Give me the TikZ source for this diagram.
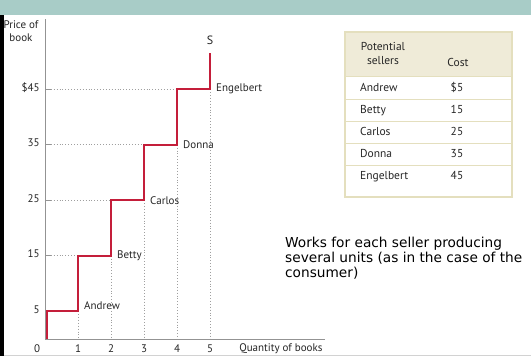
\documentclass[tikz,border=0pt]{standalone}
\usepackage{fontspec}
\usepackage{tikz}
\usetikzlibrary{positioning}

\newfontfamily\chartfont{PT Sans}
\newfontfamily\notefont{DejaVu Sans}

\definecolor{bandteal}{HTML}{A8CCC7}
\definecolor{supplyred}{HTML}{C41E3A}
\definecolor{tablebeige}{HTML}{EFEBD8}
\definecolor{tableline}{HTML}{E4DFBE}
\definecolor{inkgray}{HTML}{262626}

\tikzset{
    lbl/.style={font=\chartfont\fontsize{11}{12}\selectfont, text=inkgray, inner sep=1pt},
    cell/.style={font=\chartfont\fontsize{11.5}{12.5}\selectfont, text=inkgray, inner sep=1pt},
    guide/.style={gray!75, dotted, line width=0.9pt},
    axisline/.style={gray!85, line width=0.8pt},
}

\begin{document}
\begin{tikzpicture}[x=1pt, y=1pt]
    \useasboundingbox (0,0) rectangle (531,356);
    \fill[white] (0,0) rectangle (531,356);
    \fill[bandteal] (0,341) rectangle (531,356);
    \draw[gray!35, line width=1.2pt] (0,0.6) -- (531,0.6);

    % supply curve: 33pt per book, 5.55pt per dollar
    \begin{scope}[shift={(45,17)}, x=33pt, y=5.55pt]
        \draw[axisline] (0,0) -- (0,57.7);
        \draw[axisline] (0,0) -- (8.48,0);

        \foreach \q/\p in {1/5,2/15,3/25,4/35,5/45}
            \draw[guide] (\q,\p) -- (\q,0);
        \foreach \q/\p in {1/15,2/25,3/35,4/45}
            \draw[guide] (0,\p) -- (\q,\p);

        \foreach \p/\t in {5/5,15/15,25/25,35/35,45/\$45} {
            \draw[axisline] (0,\p) -- ++(6pt,0);
            \node[lbl, anchor=mid east] (price-\p) at (-0.13,\p) {\t};
        }
        \foreach \q in {1,...,5} {
            \draw[axisline] (\q,0) -- ++(0,-1.5pt);
            \node[lbl] (qty-\q) at (\q,-1.8) {\q};
        }
        \node[lbl] (qty-0) at (-0.24,-1.8) {0};
        \node[lbl, anchor=west] (xlabel) at (5.85,-1.8) {Quantity of books};

        \draw[supplyred, line width=2pt] (0.06,0) -- (0.06,5) -| (1,15) -| (2,25)
            -| (3,35) -| (4,45) -| (5,51.5);
        \node[lbl, font=\chartfont\fontsize{12}{13}\selectfont] (supply) at (5,53.8) {S};

        \node[lbl, anchor=west] (andrew) at (1,6) [xshift=5pt] {Andrew};
        \node[lbl, anchor=west] (betty) at (2,15) [xshift=5pt] {Betty};
        \node[lbl, anchor=west] (carlos) at (3,25) [xshift=5pt] {Carlos};
        \node[lbl, anchor=west] (donna) at (4,35) [xshift=5pt] {Donna};
        \node[lbl, anchor=west] (engelbert) at (5,45) [xshift=5pt] {Engelbert};
    \end{scope}

    \node[lbl, align=center, font=\chartfont\fontsize{11}{13}\selectfont] (ylabel) at (21,325) {Price of\\book};

    % table of sellers
    \fill[white] (345,159) rectangle (512,324);
    \fill[tablebeige] (345,279) rectangle (512,324);
    \foreach \y in {279,256,234,212,190}
        \draw[tableline, line width=1pt] (345,\y) -- (512,\y);
    \draw[tableline, line width=1.5pt] (345,159) rectangle (512,324);

    \node[cell, align=center, font=\chartfont\fontsize{11.5}{14}\selectfont] (head-sellers) at (383,302) {Potential\\sellers};
    \node[cell] (head-cost) at (458,294) {Cost};
    \foreach \n/\c [count=\i] in {Andrew/\$5, Betty/15, Carlos/25, Donna/35, Engelbert/45} {
        \node[cell, anchor=mid west] (name-\i) at (359,289-22*\i) {\n};
        \node[cell, anchor=mid] (cost-\i) at (457,289-22*\i) {\c};
    }

    \node[font=\notefont\fontsize{13.7}{15}\selectfont, align=left, anchor=north west,
        inner sep=0pt, text=black] (note) at (285,119)
        {Works for each seller producing\\several units (as in the case of the\\consumer)};

    \fill[black] (0,0) rectangle (4,341);
\end{tikzpicture}
\end{document}
